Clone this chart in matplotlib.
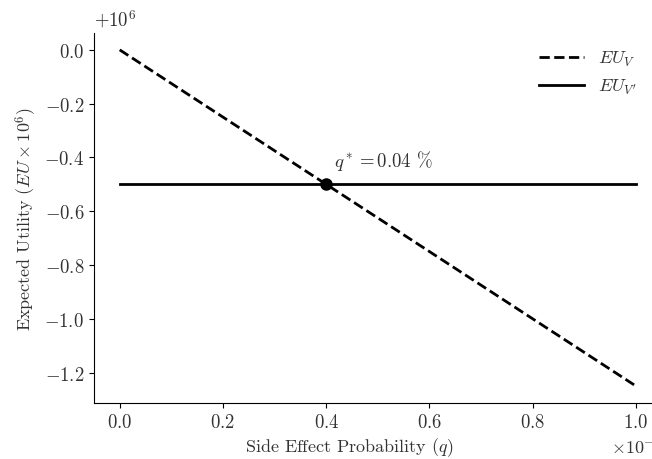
import matplotlib
matplotlib.use("Agg")
import matplotlib.pyplot as plt
from matplotlib.ticker import ScalarFormatter, FuncFormatter

plt.rcParams['font.family'] = 'serif'
plt.rcParams['font.serif'] = ['cmr10', 'DejaVu Serif']
plt.rcParams['mathtext.fontset'] = 'cm'
plt.rcParams['axes.formatter.use_mathtext'] = True
plt.rcParams['axes.unicode_minus'] = True

# Data
q = [0.0, 1.0e-3]                 # side effect probability
eu_v = [0.0, -1.25]               # EU_V in units of 1e6
eu_vp = [-0.5, -0.5]              # EU_V' in units of 1e6
q_star = 0.4e-3
eu_star = -0.5
label_star = r"$q^* = 0.04$ %"

fig = plt.figure(figsize=(6.52, 4.6), dpi=100)
ax = fig.add_axes([0.144, 0.122, 0.871, 0.804])

ax.plot(q, eu_v, color='black', ls='--', lw=2, label=r"$EU_V$")
ax.plot(q, eu_vp, color='black', ls='-', lw=2, label=r"$EU_{V'}$")
ax.plot([q_star], [eu_star], 'o', color='black', ms=8, zorder=5)
ax.text(q_star + 0.015e-3, eu_star + 0.045, label_star, fontsize=13.5,
        ha='left', va='bottom', color='#333333')

for s in ['top', 'right']:
    ax.spines[s].set_visible(False)

fmt = ScalarFormatter(useMathText=True)
fmt.set_powerlimits((0, 0))
ax.xaxis.set_major_formatter(fmt)
ax.xaxis.get_offset_text().set_fontsize(13)
ax.xaxis.get_offset_text().set_color('#333333')
ax.yaxis.set_major_formatter(FuncFormatter(lambda v, p: r"$%.1f$" % v if abs(v) > 1e-9 else r"$0.0$"))
ax.set_yticks([0.0, -0.2, -0.4, -0.6, -0.8, -1.0, -1.2])
ax.set_xticks([0, 0.2e-3, 0.4e-3, 0.6e-3, 0.8e-3, 1.0e-3])
ax.tick_params(labelsize=13.5, colors='black', labelcolor='#333333')
ax.text(0.0, 1.01, r"$+10^6$", transform=ax.transAxes, ha='left', va='bottom',
        fontsize=13.5, color='#333333')

ax.set_xlabel(r"Side Effect Probability ($q$)", fontsize=13, color='#333333')
ax.xaxis.set_label_coords(0.45, -0.088)
ax.set_ylabel(r"Expected Utility ($EU\times 10^6$)", fontsize=13, color='#333333')

leg = ax.legend(loc='upper right', frameon=False, fontsize=13, handlelength=2.5,
                bbox_to_anchor=(0.985, 1.0))
for t in leg.get_texts():
    t.set_color('#333333')

fig.savefig("out.png", dpi=100)
